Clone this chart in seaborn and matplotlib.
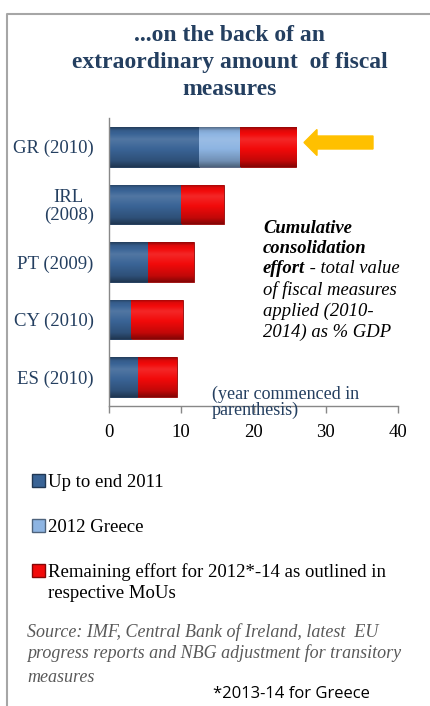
import numpy as np
import pandas as pd
import matplotlib
matplotlib.use("Agg")
import matplotlib.pyplot as plt
import matplotlib.colors as mcolors
from matplotlib.patches import Rectangle, FancyArrow
from matplotlib.lines import Line2D
import seaborn as sns

# Fiscal consolidation effort, % of GDP
countries = ["GR (2010)", "IRL\n(2008)", "PT (2009)", "CY (2010)", "ES (2010)"]
up_to_2011 = [12.4, 9.9, 5.3, 3.0, 3.9]
greece_2012 = [5.7, 0.0, 0.0, 0.0, 0.0]
remaining = [7.8, 6.0, 6.4, 7.2, 5.5]
x_ticks = [0, 10, 20, 30, 40]

legend_labels = ["Up to end 2011", "2012 Greece",
                 "Remaining effort for 2012*-14 as outlined in\nrespective MoUs"]

DARK_BLUE = "#3A6496"
LIGHT_BLUE = "#8DB4E2"
RED = "#F20A0A"
NAVY = "#243F60"
SERIF = "Liberation Serif"

df = pd.DataFrame({"country": countries,
                   "blue": up_to_2011,
                   "light": greece_2012,
                   "red": remaining})
df["to_light"] = df["blue"] + df["light"]
df["total"] = df["to_light"] + df["red"]

sns.set_theme(style="white")
plt.rcParams["font.family"] = [SERIF, "DejaVu Serif"]

W, H = 430, 706
fig = plt.figure(figsize=(W / 100, H / 100), dpi=100)


def fx(x):
    return x / W


def fy(y):
    return 1 - y / H


ax = fig.add_axes([fx(109), fy(406), fx(398) - fx(109), fy(118) - fy(406)])

# stacked bars: draw cumulative totals back to front
for col, colr in [("total", RED), ("to_light", LIGHT_BLUE), ("blue", DARK_BLUE)]:
    sns.barplot(data=df, y="country", x=col, color=colr, orient="h",
                width=0.69, ax=ax, saturation=1, linewidth=0)


def shade(color, f):
    r, g, b = mcolors.to_rgb(color)
    if f >= 1:
        t = f - 1
        return (r + (1 - r) * t, g + (1 - g) * t, b + (1 - b) * t)
    return (r * f, g * f, b * f)


# bevelled look: vertical gradient clipped to each bar
prof_y = np.linspace(0, 1, 60)
bright = np.interp(prof_y, [0, 0.08, 0.3, 0.55, 0.85, 1.0],
                   [0.62, 0.92, 1.12, 1.0, 0.8, 0.55])
for p in list(ax.patches):
    w = p.get_width()
    if w <= 0:
        continue
    base = p.get_facecolor()[:3]
    img = np.array([[shade(base, b)] for b in bright])
    x0, y0, h = p.get_x(), p.get_y(), p.get_height()
    im = ax.imshow(img, extent=(x0, x0 + w, y0 + h, y0), origin="upper",
                   aspect="auto", interpolation="bilinear", zorder=p.get_zorder() + 0.1)
    im.set_clip_path(p)
    p.set_edgecolor(shade(base, 0.6))
    p.set_linewidth(0.6)

ax.set_xlim(0, 40)
ax.set_ylim(4.5, -0.5)
ax.set_xticks(x_ticks)
ax.set_xticklabels([str(t) for t in x_ticks], fontsize=13.5, color="black")
ax.set_yticks(range(len(countries)))
ax.set_yticklabels(countries, fontsize=13.5, color=NAVY, multialignment="center",
                   linespacing=1.0)
ax.set_xlabel("")
ax.set_ylabel("")
ax.tick_params(axis="x", bottom=True, length=5, width=1, color="#888888", pad=8)
ax.tick_params(axis="y", left=False, length=0, pad=11)
for s in ["top", "right"]:
    ax.spines[s].set_visible(False)
for s in ["left", "bottom"]:
    ax.spines[s].set_color("#888888")
    ax.spines[s].set_linewidth(1)

# pointer to Greece
arrow = FancyArrow(fx(373), fy(142.5), fx(304) - fx(373), 0, width=13 / H,
                   head_width=26 / H, head_length=13 / W, length_includes_head=True,
                   color="#FFC000", transform=fig.transFigure, figure=fig)
fig.patches.append(arrow)

# title
title_lines = ["...on the back of an", "extraordinary amount  of fiscal", "measures"]
for y, line in zip([41, 68, 95], title_lines):
    fig.text(fx(230), fy(y), line, ha="center", va="baseline", fontsize=17,
             fontweight="bold", color=NAVY)

# annotation
NOTE_FS = 13.4
note_kw = dict(fontsize=NOTE_FS, style="italic", color="black", va="baseline")
fig.text(fx(263), fy(233), "Cumulative", fontweight="bold", **note_kw)
fig.text(fx(263), fy(253), "consolidation", fontweight="bold", **note_kw)
t_eff = fig.text(fx(263), fy(273), "effort", fontweight="bold", **note_kw)
ax.annotate(" - total value", xy=(1, 0), xycoords=t_eff, ha="left", va="bottom",
            fontsize=NOTE_FS, style="italic", color="black")
fig.text(fx(263), fy(295), "of fiscal measures", **note_kw)
fig.text(fx(263), fy(316), "applied (2010-", **note_kw)
fig.text(fx(263), fy(337), "2014) as % GDP", **note_kw)

fig.text(fx(212), fy(399), "(year commenced in", fontsize=13, color=NAVY, va="baseline")
fig.text(fx(212), fy(415), "parenthesis)", fontsize=13, color=NAVY, va="baseline")

# legend
leg_base = [487, 532, 577]
leg_cols = [DARK_BLUE, LIGHT_BLUE, RED]
for y, c, lab in zip(leg_base, leg_cols, legend_labels):
    fig.patches.append(Rectangle((fx(32), fy(y)), 13 / W, 13 / H,
                                 transform=fig.transFigure, figure=fig,
                                 facecolor=c, edgecolor=shade(c, 0.55), linewidth=1))
    first, *rest = lab.split("\n")
    fig.text(fx(48), fy(y), first, fontsize=13.5, color="black", va="baseline")
    for k, extra in enumerate(rest, start=1):
        fig.text(fx(48), fy(y + 21 * k), extra, fontsize=13.5, color="black",
                 va="baseline")

# source note
source_lines = ["Source: IMF, Central Bank of Ireland, latest  EU",
                "progress reports and NBG adjustment for transitory",
                "measures"]
for y, line in zip([637, 658, 682], source_lines):
    fig.text(fx(27), fy(y), line, fontsize=13, style="italic", color="#595959",
             va="baseline")
fig.text(fx(213), fy(698), "*2013-14 for Greece", fontsize=12,
         family=["Open Sans", "DejaVu Sans"], color="black", va="baseline")

# panel frame
fig.lines.append(Line2D([fx(7), fx(7), fx(430)], [0, fy(14), fy(14)],
                        transform=fig.transFigure, color="#A6A6A6", linewidth=1.5))

fig.savefig("out.png", dpi=100)
